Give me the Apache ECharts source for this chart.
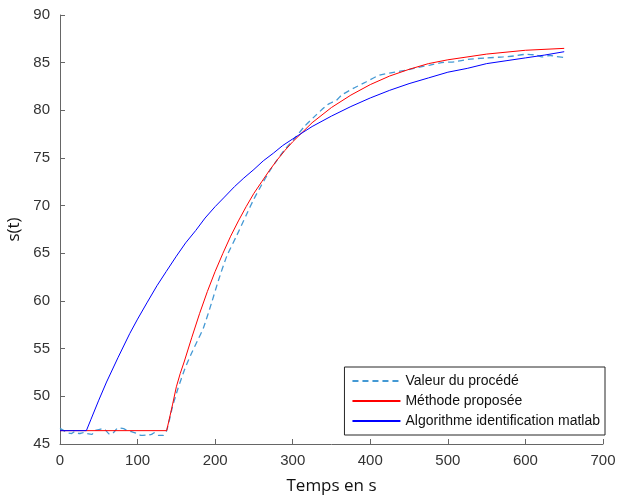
<!DOCTYPE html>
<html>
<head>
<meta charset="utf-8">
<script src="https://cdn.jsdelivr.net/npm/echarts@6/dist/echarts.min.js"></script>
<style>html,body{margin:0;padding:0;background:#fff;}#c{width:618px;height:497px;}</style>
</head>
<body>
<div id="c"></div>
<script>
// ---- data ----
const seriesNames = ['Valeur du procédé', 'Méthode proposée', 'Algorithme identification matlab'];

const procT = [0, 5, 8.6, 15, 19, 25, 30, 34, 41, 45, 50, 54, 58, 64.5, 69, 75, 82, 86, 92, 99, 105, 112, 118, 122, 127, 133, 137.5,
  145, 152, 161, 170, 177, 185, 195, 204, 215, 228, 240, 250, 260, 270, 280, 290, 301, 315, 330, 345, 357, 363, 378, 395,
  412, 428, 445, 462, 477, 492, 509, 526, 550, 571, 585, 600, 614, 621, 632, 640, 653];
const procS = [46.64, 46.4, 46.2, 46.1, 46.3, 46.1, 46.2, 46.1, 46.0, 46.4, 46.5, 46.6, 46.5, 46.0, 46.2, 46.7, 46.6, 46.45, 46.3, 46.1, 45.9, 45.95, 46.0, 46.2, 45.9, 45.9, 46.4,
  48.9, 50.8, 52.9, 54.6, 55.8, 57.2, 59.7, 62.1, 64.7, 66.9, 69.0, 70.7, 72.2, 73.6, 74.8, 75.9, 76.9, 78.3, 79.5, 80.6, 81.1, 81.6, 82.3, 83.0,
  83.7, 83.95, 84.2, 84.5, 84.75, 85.0, 85.1, 85.35, 85.5, 85.6, 85.7, 85.87, 85.8, 85.6, 85.75, 85.65, 85.5];

const methT = [0, 137.5, 140, 145, 150, 155, 160, 170, 180, 190, 200, 210, 220, 230, 240, 250, 260, 270, 280, 290, 300,
  325, 350, 375, 400, 425, 450, 475, 500, 550, 600, 650];
const methS = [46.4, 46.4, 47.3, 49.1, 51.0, 52.4, 53.6, 56.2, 58.7, 61.0, 63.1, 65.0, 66.8, 68.4, 69.9, 71.3, 72.5, 73.7, 74.8, 75.8, 76.7,
  78.7, 80.3, 81.6, 82.7, 83.6, 84.3, 84.9, 85.3, 85.9, 86.3, 86.5];

const algoT = [0, 34, 40, 50, 60, 75, 90, 100, 112, 125, 137, 150, 162, 175, 187, 200, 212, 225, 237, 250, 262, 275, 287, 300,
  325, 350, 375, 400, 425, 450, 475, 500, 525, 550, 575, 600, 625, 650];
const algoS = [46.4, 46.4, 47.6, 49.6, 51.5, 54.1, 56.6, 58.1, 59.8, 61.6, 63.1, 64.7, 66.1, 67.4, 68.7, 69.9, 70.9, 72.0, 72.9, 73.8, 74.7, 75.5, 76.3, 77.0,
  78.3, 79.4, 80.4, 81.3, 82.1, 82.8, 83.4, 84.0, 84.4, 84.9, 85.2, 85.5, 85.8, 86.15];

const xTicks = {min: 0, max: 700, interval: 100};
const yTicks = {min: 45, max: 90, interval: 5};

function pairs(t, s) { return t.map((v, i) => [v, s[i]]); }

const chart = echarts.init(document.getElementById('c'), null, {renderer: 'canvas'});
const axisCol = '#666';
const labCol = '#333';
chart.setOption({
  animation: false,
  backgroundColor: '#fff',
  grid: {left: 60, right: 15, top: 15, bottom: 53, containLabel: false, outerBoundsMode: 'none'},
  xAxis: {
    type: 'value', min: xTicks.min, max: xTicks.max, interval: xTicks.interval,
    name: 'Temps en s', nameLocation: 'middle', nameGap: 34,
    nameTextStyle: {fontFamily: 'Open Sans', fontSize: 17, color: '#111'},
    axisLine: {show: true, lineStyle: {color: axisCol, width: 1}},
    axisTick: {show: true, inside: true, length: 5, lineStyle: {color: axisCol}},
    axisLabel: {fontFamily: 'Liberation Sans', fontSize: 15, color: labCol, margin: 9},
    splitLine: {show: false}
  },
  yAxis: {
    type: 'value', min: yTicks.min, max: yTicks.max, interval: yTicks.interval,
    name: 's(t)', nameLocation: 'middle', nameGap: 33, nameRotate: 90,
    nameTextStyle: {fontFamily: 'Open Sans', fontSize: 17, color: '#111'},
    axisLine: {show: true, lineStyle: {color: axisCol, width: 1}},
    axisTick: {show: true, inside: true, length: 5, lineStyle: {color: axisCol}},
    axisLabel: {fontFamily: 'Liberation Sans', fontSize: 15, color: labCol, margin: 10},
    splitLine: {show: false}
  },
  legend: {
    data: seriesNames,
    orient: 'vertical',
    right: 13, bottom: 62,
    backgroundColor: '#fff',
    borderColor: '#262626', borderWidth: 1, borderRadius: 0,
    padding: [7, 5, 7, 7],
    itemGap: 6, itemWidth: 48, itemHeight: 14,
    itemStyle: {opacity: 0},
    textStyle: {fontFamily: 'Liberation Sans', fontSize: 14, color: '#111'}
  },
  series: [
    {name: seriesNames[0], type: 'line', data: pairs(procT, procS), symbol: 'none', smooth: 0.2,
     lineStyle: {color: '#4499d4', width: 1.3, type: [6, 4]}, itemStyle: {color: '#4499d4'}},
    {name: seriesNames[1], type: 'line', data: pairs(methT, methS), symbol: 'none', smooth: false,
     lineStyle: {color: '#ff0000', width: 1}, itemStyle: {color: '#ff0000'}},
    {name: seriesNames[2], type: 'line', data: pairs(algoT, algoS), symbol: 'none', smooth: false,
     lineStyle: {color: '#0000ff', width: 1}, itemStyle: {color: '#0000ff'}}
  ]
});
</script>
</body>
</html>
